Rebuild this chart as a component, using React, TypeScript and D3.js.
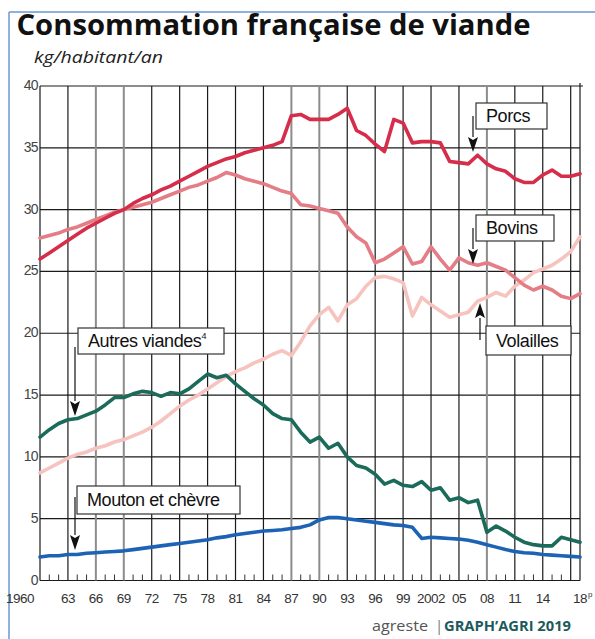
import React from 'react';
import * as d3 from 'd3';

const years = d3.range(1960, 2019);

const porcs = [
  26.0, 26.5, 27.0, 27.5, 28.0, 28.5, 28.9, 29.3, 29.7, 30.0,
  30.5, 30.9, 31.2, 31.6, 31.9, 32.3, 32.7, 33.1, 33.5, 33.8,
  34.1, 34.3, 34.6, 34.8, 35.0, 35.2, 35.5, 37.6, 37.7, 37.3,
  37.3, 37.3, 37.7, 38.2, 36.4, 36.0, 35.3, 34.7, 37.3, 37.0,
  35.4, 35.5, 35.5, 35.4, 33.9, 33.8, 33.7, 34.4, 33.7, 33.3,
  33.1, 32.5, 32.2, 32.2, 32.8, 33.2, 32.7, 32.7, 32.9,
];

const bovins = [
  27.7, 27.9, 28.1, 28.4, 28.6, 28.9, 29.2, 29.5, 29.8, 30.0,
  30.2, 30.4, 30.6, 30.9, 31.2, 31.5, 31.8, 32.0, 32.3, 32.6,
  33.0, 32.8, 32.5, 32.3, 32.1, 31.8, 31.5, 31.3, 30.4, 30.3,
  30.1, 29.9, 29.7, 28.6, 27.8, 27.3, 25.7, 26.0, 26.5, 27.0,
  25.6, 25.8, 27.0, 26.0, 25.1, 26.1, 25.7, 25.5, 25.7, 25.4,
  25.1, 24.5, 23.9, 23.5, 23.8, 23.5, 23.0, 22.8, 23.2,
];

const volailles = [
  8.7, 9.1, 9.5, 9.9, 10.2, 10.4, 10.7, 10.9, 11.2, 11.4,
  11.7, 12.0, 12.4, 12.9, 13.5, 14.1, 14.6, 15.0, 15.5, 16.0,
  16.5, 16.9, 17.2, 17.6, 17.9, 18.3, 18.6, 18.2, 19.3, 20.6,
  21.5, 22.1, 21.0, 22.3, 22.8, 23.8, 24.5, 24.6, 24.4, 24.1,
  21.4, 22.9, 22.3, 21.8, 21.3, 21.5, 21.7, 22.6, 22.9, 23.3,
  23.0, 23.8, 24.3, 24.9, 25.2, 25.5, 26.0, 26.6, 27.8,
];

const autres = [
  11.6, 12.2, 12.7, 13.0, 13.1, 13.4, 13.7, 14.2, 14.8, 14.8,
  15.1, 15.3, 15.2, 14.9, 15.2, 15.1, 15.5, 16.1, 16.7, 16.4,
  16.6, 15.9, 15.3, 14.7, 14.2, 13.5, 13.1, 13.0, 12.0, 11.2,
  11.6, 10.7, 11.1, 10.0, 9.3, 9.1, 8.6, 7.8, 8.1, 7.7,
  7.6, 8.0, 7.3, 7.5, 6.5, 6.7, 6.3, 6.5, 3.9, 4.4,
  4.0, 3.5, 3.1, 2.9, 2.8, 2.8, 3.5, 3.3, 3.1,
];

const mouton = [
  1.9, 2.0, 2.0, 2.1, 2.1, 2.2, 2.25, 2.3, 2.35, 2.4,
  2.5, 2.6, 2.7, 2.8, 2.9, 3.0, 3.1, 3.2, 3.3, 3.45,
  3.55, 3.7, 3.8, 3.9, 4.0, 4.05, 4.1, 4.2, 4.3, 4.5,
  4.9, 5.1, 5.1, 5.0, 4.9, 4.8, 4.7, 4.6, 4.5, 4.45,
  4.3, 3.4, 3.5, 3.45, 3.4, 3.35, 3.25, 3.1, 2.9, 2.7,
  2.5, 2.35, 2.25, 2.2, 2.1, 2.05, 2.0, 1.95, 1.9,
];

const yTicks = [0, 5, 10, 15, 20, 25, 30, 35, 40];
const xMajor = [1960, 1963, 1966, 1969, 1972, 1975, 1978, 1981, 1984, 1987, 1990, 1993, 1996, 1999, 2002, 2005, 2008, 2011, 2014, 2017];
const xLabels = ['1960', '63', '66', '69', '72', '75', '78', '81', '84', '87', '90', '93', '96', '99', '2002', '05', '08', '11', '14'];
const grayLines = [1966, 1969, 1987, 1990, 2008];

const series = [
  { name: 'Volailles', values: volailles, color: '#f6c3bf' },
  { name: 'Bovins', values: bovins, color: '#e47d86' },
  { name: 'Porcs', values: porcs, color: '#d62d4a' },
  { name: 'Autres viandes', values: autres, color: '#1b6b5a' },
  { name: 'Mouton et chèvre', values: mouton, color: '#1c63b6' },
];

// annotation boxes: box position + arrow (x, from, to in px)
const notes = [
  { label: 'Porcs', sup: '', bx: 476, by: 103, bw: 71, bh: 26, ax: 473, a0: 116, a1: 152 },
  { label: 'Bovins', sup: '', bx: 476, by: 215, bw: 78, bh: 26, ax: 473, a0: 228, a1: 264 },
  { label: 'Volailles', sup: '', bx: 486, by: 326, bw: 85, bh: 29, ax: 480, a0: 340, a1: 303 },
  { label: 'Autres viandes', sup: '4', bx: 78, by: 328, bw: 146, bh: 26, ax: 75, a0: 347, a1: 416 },
  { label: 'Mouton et chèvre', sup: '', bx: 77, by: 486, bw: 163, bh: 28, ax: 75, a0: 497, a1: 550 },
];

const W = 595;
const H = 639;

export default function App() {
  const x = d3.scaleLinear().domain([1960, 2018]).range([40, 580]);
  const y = d3.scaleLinear().domain([0, 40]).range([580.5, 86]);

  const line = (vals: number[]) =>
    d3.line<number>()
      .x((_, i) => x(years[i]))
      .y(d => y(d))(vals) || '';

  const sans = '"Liberation Sans", Arial, sans-serif';

  return (
    <svg width={W} height={H} style={{ position: 'absolute', left: 0, top: 0, background: '#fff' }}>
      {/* frame */}
      <line x1={9} y1={12} x2={W} y2={12} stroke="#6b97d4" strokeWidth={1.5} />
      <line x1={9} y1={12} x2={9} y2={H} stroke="#6b97d4" strokeWidth={1.5} />

      <text x={16.5} y={35} fontFamily='"Open Sans", sans-serif' fontWeight={700} fontSize={28}
        textLength={514} lengthAdjust="spacingAndGlyphs" fill="#111">
        Consommation française de viande
      </text>
      <text x={34} y={63} fontFamily='"Open Sans", sans-serif' fontStyle="italic" fontSize={16}
        textLength={129} lengthAdjust="spacingAndGlyphs" fill="#222">
        kg/habitant/an
      </text>

      {/* horizontal grid */}
      {yTicks.map(t => (
        <g key={'y' + t}>
          <line x1={40} x2={t === 40 ? 583 : 580} y1={y(t)} y2={y(t)} stroke="#1a1a1a" strokeWidth={1.2} />
          <text x={38} y={y(t) + 4} textAnchor="end" fontFamily={sans} fontSize={14} fill="#444" letterSpacing={-0.6}>
            {t}
          </text>
        </g>
      ))}

      {/* vertical grid */}
      {xMajor.map(yr => {
        const gray = grayLines.includes(yr);
        return (
          <line key={'v' + yr} x1={x(yr)} x2={x(yr)} y1={y(40)} y2={y(0)}
            stroke={gray ? '#8c8c8c' : '#1a1a1a'} strokeWidth={gray ? 2 : 1.2} />
        );
      })}
      <line x1={x(2018)} x2={x(2018)} y1={y(40) - 3} y2={y(0)} stroke="#1a1a1a" strokeWidth={1.2} />

      {/* minor ticks */}
      {years.filter(yr => (yr - 1960) % 3 !== 0 && yr !== 2018).map(yr => (
        <line key={'m' + yr} x1={x(yr)} x2={x(yr)} y1={y(0) - 6} y2={y(0)} stroke="#333" strokeWidth={1} />
      ))}

      {/* x labels */}
      {xLabels.map((lab, i) => {
        const yr = xMajor[i];
        if (i === 0) {
          return (
            <text key={lab} x={34} y={603} textAnchor="end" fontFamily={sans} fontSize={13.5} fill="#333" letterSpacing={-0.5}>
              {lab}
            </text>
          );
        }
        return (
          <text key={lab} x={x(yr)} y={603} textAnchor="middle" fontFamily={sans} fontSize={13.5} fill="#333" letterSpacing={-0.5}>
            {lab}
          </text>
        );
      })}
      <text x={x(2018)} y={603} textAnchor="middle" fontFamily={sans} fontSize={13.5} fill="#333" letterSpacing={-0.5}>18</text>
      <text x={x(2018) + 8} y={597} fontFamily={sans} fontSize={8} fill="#333">p</text>

      {/* series */}
      {series.map(s => (
        <path key={s.name} d={line(s.values)} fill="none" stroke={s.color} strokeWidth={3.6}
          strokeLinejoin="round" strokeLinecap="round" />
      ))}

      {/* annotations */}
      {notes.map(n => {
        const down = n.a1 > n.a0;
        const headLen = 15;
        const base = down ? n.a1 - headLen : n.a1 + headLen;
        return (
          <g key={n.label}>
            <line x1={n.ax} x2={n.ax} y1={n.a0} y2={base} stroke="#111" strokeWidth={1.2} />
            <path d={`M${n.ax - 5},${base} L${n.ax},${n.a1} L${n.ax + 5},${base} L${n.ax},${base + (down ? 3 : -3)} Z`} fill="#111" />
            <rect x={n.bx} y={n.by} width={n.bw} height={n.bh} fill="#fff" stroke="#333" strokeWidth={1.2} />
            <text x={n.bx + 10} y={n.by + n.bh / 2 + 6} fontFamily={sans} fontSize={18} fill="#111" letterSpacing={-0.4}>
              {n.label}
              {n.sup && <tspan fontSize={9} dy={-8}>{n.sup}</tspan>}
            </text>
          </g>
        );
      })}

      {/* source */}
      <text x={372} y={631} fontFamily='"Open Sans", sans-serif' fontSize={15} fill="#555"
        textLength={56} lengthAdjust="spacingAndGlyphs">agreste</text>
      <text x={435} y={631} fontFamily='"Open Sans", sans-serif' fontSize={15} fill="#777">|</text>
      <text x={444} y={631} fontFamily='"Open Sans", sans-serif' fontWeight={700} fontSize={14} fill="#1e5a5c"
        textLength={127} lengthAdjust="spacingAndGlyphs">GRAPH’AGRI 2019</text>
    </svg>
  );
}
